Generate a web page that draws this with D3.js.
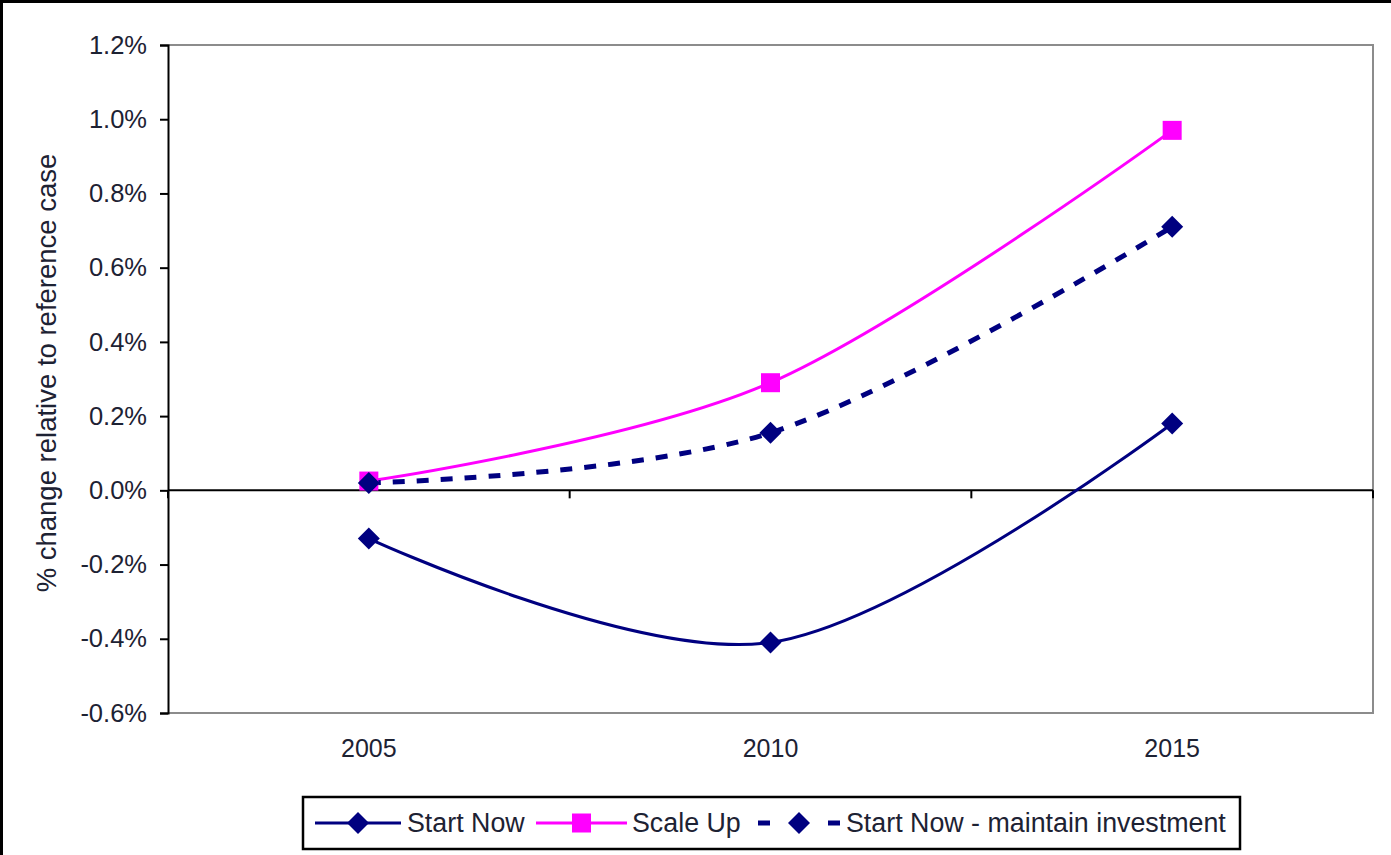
<!DOCTYPE html>
<html>
<head>
<meta charset="utf-8">
<script src="https://cdn.jsdelivr.net/npm/d3@7"></script>
<style>
  html, body { margin: 0; padding: 0; background: #fff; }
  svg { display: block; font-family: "Liberation Sans", Arial, sans-serif; }
</style>
</head>
<body>
<svg id="chart" width="1391" height="855"></svg>
<script>
// Model years (categories)
const years = ["2005", "2010", "2015"];

// % change relative to the reference case, per scenario
const startNow = [-0.0013, -0.0041, 0.0018];
const scaleUp = [0.00025, 0.0029, 0.0097];
const startNowMaintain = [0.0002, 0.00155, 0.0071];

// Y axis tick values
const yTicks = [-0.006, -0.004, -0.002, 0, 0.002, 0.004, 0.006, 0.008, 0.010, 0.012];

const series = [
  { name: "Start Now", values: startNow, color: "#000080", width: 3, dash: null, marker: "diamond" },
  { name: "Scale Up", values: scaleUp, color: "#FF00FF", width: 3, dash: null, marker: "square" },
  { name: "Start Now - maintain investment", values: startNowMaintain, color: "#000080", width: 5, dash: "12,12", marker: "diamond" }
];

const svg = d3.select("#chart");
const W = 1391, H = 855;
const plot = { left: 168, top: 45, right: 1373, bottom: 713 };
const textColor = "#1d2233";

// Outer chart-area frame
svg.append("rect")
  .attr("x", 1.5).attr("y", 1.5)
  .attr("width", W + 20).attr("height", H + 20)
  .attr("fill", "#fff").attr("stroke", "#000").attr("stroke-width", 3);

const x = d3.scaleBand().domain(years).range([plot.left, plot.right]).paddingInner(0).paddingOuter(0);
const y = d3.scaleLinear().domain([-0.006, 0.012]).range([plot.bottom, plot.top]);
const xc = d => x(d) + x.bandwidth() / 2;

// Percent labels with a plain hyphen for negatives
const pct = d => d3.format(".1%")(d).replace("\u2212", "-");

// Plot-area border (top, right, bottom)
svg.append("path")
  .attr("d", `M${plot.left},${plot.top}H${plot.right}V${plot.bottom}H${plot.left}`)
  .attr("fill", "none").attr("stroke", "#8c8c8c").attr("stroke-width", 2);

// Y axis
const yAxis = d3.axisLeft(y).tickValues(yTicks).tickFormat(pct).tickSize(8).tickPadding(13);
const gy = svg.append("g").attr("transform", `translate(${plot.left},0)`).call(yAxis);
gy.select(".domain").attr("stroke", "#000").attr("stroke-width", 2);
gy.selectAll(".tick line").attr("stroke", "#000").attr("stroke-width", 2);
gy.selectAll(".tick text").attr("fill", textColor).style("font-size", "25.5px")
  .style("font-family", "'Liberation Sans', Arial, sans-serif");

// X axis line at zero with category-boundary tick marks
const boundaries = years.map(d => x(d)).concat([plot.right]);
const gx = svg.append("g");
gx.append("line")
  .attr("x1", plot.left).attr("x2", plot.right)
  .attr("y1", y(0)).attr("y2", y(0))
  .attr("stroke", "#000").attr("stroke-width", 2);
gx.selectAll("line.tick").data(boundaries).join("line")
  .attr("class", "tick")
  .attr("x1", d => d).attr("x2", d => d)
  .attr("y1", y(0)).attr("y2", y(0) + 8)
  .attr("stroke", "#000").attr("stroke-width", 2);

// Category labels at the bottom of the plot
svg.append("g").selectAll("text").data(years).join("text")
  .attr("x", d => xc(d)).attr("y", plot.bottom + 44)
  .attr("text-anchor", "middle")
  .attr("fill", textColor)
  .style("font-size", "25px")
  .text(d => d);

// Y axis title
svg.append("text")
  .attr("transform", `translate(56,${(plot.top + plot.bottom) / 2 - 6}) rotate(-90)`)
  .attr("text-anchor", "middle")
  .attr("fill", textColor)
  .style("font-size", "27.5px")
  .text("% change relative to reference case");

// Smoothed series lines
const line = d3.line()
  .x((d, i) => xc(years[i]))
  .y(d => y(d))
  .curve(d3.curveCatmullRom.alpha(0));

const diamond = s => `M0,${-s}L${s},0L0,${s}L${-s},0Z`;
const square = s => `M${-s},${-s}H${s}V${s}H${-s}Z`;
const markerPath = (m) => m === "square" ? square(9.5) : diamond(11);

series.forEach(s => {
  svg.append("path")
    .datum(s.values)
    .attr("d", line)
    .attr("fill", "none")
    .attr("stroke", s.color)
    .attr("stroke-width", s.width)
    .attr("stroke-dasharray", s.dash);
});

series.forEach(s => {
  svg.append("g").selectAll("path").data(s.values).join("path")
    .attr("transform", (d, i) => `translate(${xc(years[i])},${y(d)})`)
    .attr("d", markerPath(s.marker))
    .attr("fill", s.color);
});

// Legend
const legend = svg.append("g");
legend.append("rect")
  .attr("x", 303).attr("y", 797).attr("width", 937).attr("height", 52)
  .attr("fill", "#fff").attr("stroke", "#000").attr("stroke-width", 2.5);

const legendItems = [
  { x0: 315, x1: 401, tx: 407 },
  { x0: 536, x1: 627, tx: 632 },
  { x0: 758, x1: 840, tx: 846 }
];
const ly = 823;
series.forEach((s, i) => {
  const it = legendItems[i];
  legend.append("line")
    .attr("x1", it.x0).attr("x2", it.x1).attr("y1", ly).attr("y2", ly)
    .attr("stroke", s.color).attr("stroke-width", s.width)
    .attr("stroke-dasharray", s.dash ? "12,58" : null);
  legend.append("path")
    .attr("transform", `translate(${(it.x0 + it.x1) / 2},${ly})`)
    .attr("d", markerPath(s.marker))
    .attr("fill", s.color);
  legend.append("text")
    .attr("x", it.tx).attr("y", ly + 9)
    .attr("fill", textColor)
    .style("font-size", "26.8px")
    .text(s.name);
});
</script>
</body>
</html>
